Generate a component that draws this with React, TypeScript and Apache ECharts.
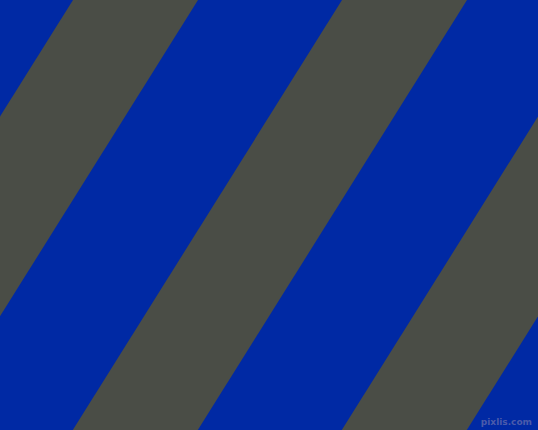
import React, { useEffect, useRef } from "react";
import * as echarts from "echarts";

// left / right edge of each gray band where it meets the top border (px)
const stripeLeft = [-196, 73, 342, 611];
const stripeRight = [-71, 198, 467, 736];
// horizontal drift of a band edge per pixel downwards
const stripeSlope = 0.626;

const WIDTH = 538;
const HEIGHT = 430;

const BLUE = "#0029a4";
const GRAY = "#4a4d46";

const App = () => {
  const chartRef = useRef<HTMLDivElement | null>(null);

  useEffect(() => {
    if (!chartRef.current) return;
    const myChart = echarts.init(chartRef.current, null, { renderer: "svg" });

    const option = {
      animation: false,
      backgroundColor: BLUE,
      grid: { left: 0, right: 0, top: 0, bottom: 0 },
      xAxis: { type: "value", min: 0, max: WIDTH, show: false },
      yAxis: { type: "value", min: 0, max: HEIGHT, inverse: true, show: false },
      series: [
        {
          type: "custom",
          clip: true,
          data: stripeLeft.map((l, i) => [l, stripeRight[i]]),
          renderItem: (params: any, api: any) => {
            const l = api.value(0);
            const r = api.value(1);
            const drop = stripeSlope * HEIGHT;
            const pts = [
              api.coord([l, 0]),
              api.coord([r, 0]),
              api.coord([r - drop, HEIGHT]),
              api.coord([l - drop, HEIGHT]),
            ];
            return {
              type: "polygon",
              shape: { points: pts },
              style: { fill: GRAY },
            };
          },
        },
      ],
      graphic: [
        {
          type: "text",
          right: 6,
          bottom: 4,
          style: {
            text: "pixlis.com",
            fill: "#4b5bab",
            font: "bold 9px 'DejaVu Sans', sans-serif",
          },
        },
      ],
    };

    myChart.setOption(option);
    return () => {
      myChart.dispose();
    };
  }, []);

  return (
    <div
      ref={chartRef}
      style={{ position: "fixed", left: 0, top: 0, width: WIDTH, height: HEIGHT }}
    ></div>
  );
};

export default App;
